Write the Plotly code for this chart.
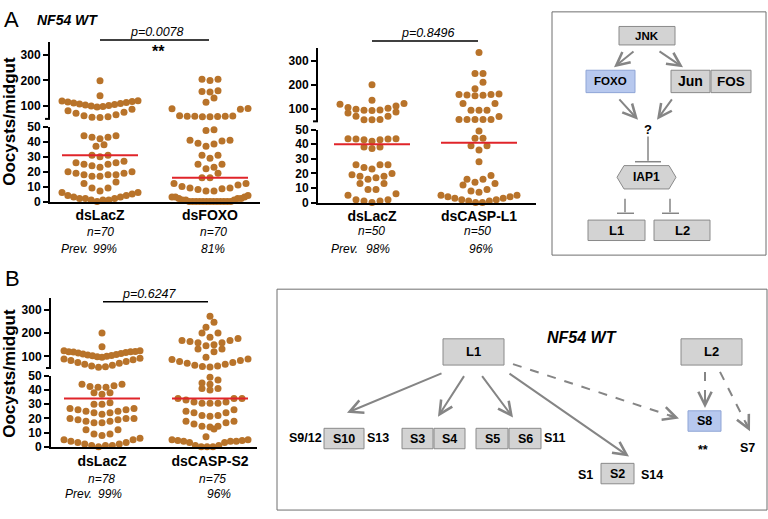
import plotly.graph_objects as go
from collections import defaultdict

W, H = 768, 519
FONT = "Liberation Sans, Arial, sans-serif"

# ---------------- data ----------------
a1_groups = ["dsLacZ", "dsFOXO"]
a1_dslacz = [199, 140,
             96, 98, 100, 102, 104, 106, 108, 110, 112, 114, 116, 118, 120, 121,
             55, 56, 58, 62, 66, 72, 76, 82, 88,
             42, 43, 44, 44, 43, 37, 38, 30, 31, 31,
             23, 24, 25, 25, 26, 26, 27,
             17, 17, 18, 18, 18, 19, 19, 20, 20,
             7, 9, 9, 12, 13,
             0, 1, 1, 1, 2, 2, 2, 3, 3, 4, 4, 5, 6, 6]
a1_dsfoxo = [205, 200, 205, 160, 157, 155, 132, 115,
             90, 88, 91, 58, 60, 60, 62, 60, 58, 61, 59,
             48, 47.5, 41, 39, 37, 38.5, 40.5, 41,
             29, 31, 31, 25, 23, 25, 22, 19, 16, 16,
             12, 10, 9, 7, 7, 8, 8.5, 9, 11, 12,
             0, 0, 0, 0, 0, 0, 0, 0, 0, 0, 0, 0, 0,
             1, 1, 1, 2, 2, 2, 3, 3, 3, 4]
a1_medians = [31, 16]
a1_n = ["n=70", "n=70"]
a1_prev = ["99%", "81%"]
a1_p = "p=0.0078"
a1_sig = "**"

a2_groups = ["dsLacZ", "dsCASP-L1"]
a2_dslacz = [200, 137, 120, 107, 100, 96, 95, 97, 104, 113, 123,
             84, 71, 56, 56, 57, 71, 88,
             43.5, 43, 43.7, 43.7, 43, 43.5, 42,
             38, 37, 38, 26, 24, 23, 26, 26,
             19, 18, 16, 17, 18, 20, 13, 13, 9, 9,
             6, 2, 1, 0, 1, 2, 5]
a2_dscasp_l1 = [333, 247, 247, 211, 184, 155, 158, 160, 162, 160, 157,
                123, 123, 96, 96, 96, 70, 58, 58, 58, 58, 58,
                49, 44, 44, 39, 39, 36, 28, 16, 16, 18.5, 14, 13, 12, 8, 7, 9,
                5, 4, 3, 2, 1, 0, 0, 1, 2, 3, 4, 5]
a2_medians = [40, 41]
a2_n = ["n=50", "n=50"]
a2_prev = ["98%", "96%"]
a2_p = "p=0.8496"

b_groups = ["dsLacZ", "dsCASP-S2"]
b_dslacz = [200, 141, 124, 124,
            96, 98, 100, 102, 104, 106, 108, 110, 112, 114, 116, 118, 119, 120, 121,
            53, 55, 58, 62, 66, 70, 74, 78, 82, 85, 88, 92,
            42.5, 42, 44, 44, 42, 43, 38, 37, 38, 30, 31, 30,
            23, 24, 24, 25, 25, 26, 26, 27, 27,
            17, 17, 18, 18, 19, 19, 20, 20, 20,
            12, 9, 8, 9, 12,
            0, 1, 1, 1, 2, 2, 3, 3, 4, 5, 5, 6]
b_dscasp_s2 = [272, 246, 224, 200, 200, 182, 176, 168, 168, 163, 158, 158, 149, 145,
               131, 131, 120, 96,
               54, 56, 58, 62, 66, 70, 74, 78, 82, 86, 89,
               49, 47, 44, 41, 40, 41, 45,
               34, 34, 31.5, 30.6, 30.6, 30.6, 31.5, 33, 34,
               25, 24, 21.5, 22, 22, 24, 26,
               18, 16, 14.5, 14, 14.5, 18, 17, 12.5, 7,
               5, 4.5, 4, 4, 3, 1, 0, 0, 0, 1, 3, 4, 4.5, 5]
b_medians = [34, 34]
b_n = ["n=78", "n=75"]
b_prev = ["99%", "96%"]
b_p = "p=0.6247"

lower_ticks = [0, 10, 20, 30, 40, 50]
upper_ticks = [100, 200, 300]

# ---------------- helpers ----------------
DOT = "#b8732a"
RED = "#e0242a"
GRAY_LINE = "#858585"
DOT_STEP = 8.0
HALF = 38.0


def px(x):
    return x / W


def py(y):
    return 1 - y / H


def swarm(values, center, split=50.0):
    segs = {"lower": ([v for v in values if v <= split], 7.0, -0.5),
            "upper": ([v for v in values if v > split], 43.0, 50.0)}
    out = {}
    for name, (vals, bw, off) in segs.items():
        rows = defaultdict(list)
        for v in sorted(vals):
            rows[int((v - off) // bw)].append(v)
        xs, ys = [], []
        for key in sorted(rows):
            vs = sorted(rows[key])
            k = len(vs)
            s = DOT_STEP if (k - 1) * DOT_STEP <= 2 * HALF else 2 * HALF / (k - 1)
            pos = [(i - (k - 1) / 2) * s for i in range(k)]
            pos.sort(key=lambda p: (round(abs(p), 6), p))
            for v, p in zip(vs, pos):
                xs.append(center + p)
                ys.append(v)
        out[name] = (xs, ys)
    return out


fig = go.Figure()
annotations = []
shapes = []


def ann(x, y, text, size, bold=False, italic=False, xanchor="center", angle=0, color="black"):
    t = text
    if bold:
        t = "<b>" + t + "</b>"
    if italic:
        t = "<i>" + t + "</i>"
    annotations.append(dict(x=px(x), y=py(y), xref="paper", yref="paper", text=t,
                            showarrow=False, xanchor=xanchor, yanchor="middle",
                            textangle=angle, font=dict(family=FONT, size=size, color=color)))


def line(x0, y0, x1, y1, color="black", width=1.5, dash=None):
    d = dict(type="line", xref="paper", yref="paper", x0=px(x0), y0=py(y0), x1=px(x1), y1=py(y1),
             line=dict(color=color, width=width))
    if dash:
        d["line"]["dash"] = dash
    shapes.append(d)


def rect(x0, y0, x1, y1, fill, edge, width=1):
    shapes.append(dict(type="rect", xref="paper", yref="paper", x0=px(x0), y0=py(y1), x1=px(x1), y1=py(y0),
                       fillcolor=fill, line=dict(color=edge, width=width)))


def arrow(x0, y0, x1, y1, dashed=False):
    if dashed:
        line(x0, y0, x1, y1, color=GRAY_LINE, width=2, dash="dash")
        L = ((x1 - x0) ** 2 + (y1 - y0) ** 2) ** 0.5
        bx, by = x1 - (x1 - x0) / L * 12, y1 - (y1 - y0) / L * 12
        annotations.append(dict(x=px(x1), y=py(y1), xref="paper", yref="paper", ax=bx - x1, ay=by - y1,
                                axref="pixel", ayref="pixel", text="", showarrow=True, arrowhead=5,
                                arrowsize=1.3, arrowwidth=2, arrowcolor=GRAY_LINE))
    else:
        annotations.append(dict(x=px(x1), y=py(y1), xref="paper", yref="paper", ax=x0 - x1, ay=y0 - y1,
                                axref="pixel", ayref="pixel", text="", showarrow=True, arrowhead=5,
                                arrowsize=1.3, arrowwidth=2, arrowcolor=GRAY_LINE))


axis_common = dict(showline=True, linecolor="black", linewidth=2, ticks="outside", ticklen=5,
                   tickwidth=2, tickcolor="black", showgrid=False, zeroline=False, fixedrange=True,
                   tickfont=dict(family=FONT, size=12, color="black", weight="bold"))

layout_axes = {}


def panel(xid, ylo, yhi, xdom, lo, hi, centers, groups, series, medians):
    xname = "xaxis" if xid == "x" else "xaxis" + xid[1:]
    yloname = "yaxis" if ylo == "y" else "yaxis" + ylo[1:]
    yhiname = "yaxis" + yhi[1:]
    width = xdom[1] - xdom[0]
    layout_axes[xname] = dict(axis_common, domain=[px(xdom[0]), px(xdom[1])], range=[0, width],
                              anchor=ylo, tickvals=centers, ticktext=groups, ticks="",
                              tickfont=dict(family=FONT, size=14, color="black", weight="bold"))
    layout_axes[yloname] = dict(axis_common, domain=[py(lo[1]), py(lo[0])], range=[0, 50],
                                anchor=xid, tickvals=lower_ticks)
    layout_axes[yhiname] = dict(axis_common, domain=[py(hi[1]), py(hi[0])], range=[50, 350],
                                anchor=xid, tickvals=upper_ticks)
    for c, vals, m in zip(centers, series, medians):
        sw = swarm(vals, c)
        for seg, ya in (("lower", ylo), ("upper", yhi)):
            xs, ys = sw[seg]
            fig.add_trace(go.Scatter(x=xs, y=ys, mode="markers", xaxis=xid, yaxis=ya,
                                     marker=dict(size=7, color=DOT, line=dict(width=0)),
                                     cliponaxis=False, showlegend=False, hoverinfo="skip"))
        fig.add_trace(go.Scatter(x=[c - HALF, c + HALF], y=[m, m], mode="lines", xaxis=xid, yaxis=ylo,
                                 line=dict(color=RED, width=2), cliponaxis=False,
                                 showlegend=False, hoverinfo="skip"))
    # break mark at bottom of upper axis
    line(xdom[0] - 5, hi[1], xdom[0], hi[1], width=2)


# ---------------- Panel A, left plot ----------------
panel("x", "y", "y2", (50, 260), (123, 200), (36, 115), [50, 160], a1_groups,
      [a1_dslacz, a1_dsfoxo], a1_medians)
ann(11, 13, "A", 22)
ann(67, 13, "NF54 WT", 14, bold=True, italic=True)
ann(10, 118, "Oocysts/midgut", 17, bold=True, angle=-90)
line(100, 34, 209, 34, width=1.5)
ann(157, 26, a1_p, 12.5, italic=True)
ann(158, 46, a1_sig, 16, bold=True)
ann(100, 231, a1_n[0], 12, italic=True)
ann(213, 231, a1_n[1], 12, italic=True)
ann(59, 249, "Prev.", 12, italic=True, xanchor="left")
ann(105, 249, a1_prev[0], 12, italic=True)
ann(213, 249, a1_prev[1], 12, italic=True)

# ---------------- Panel A, middle plot ----------------
panel("x2", "y3", "y4", (318, 536), (126, 201), (42.5, 117.5), [54, 161], a2_groups,
      [a2_dslacz, a2_dscasp_l1], a2_medians)
line(372, 35, 478, 35, width=1.5)
ann(428, 27, a2_p, 12.5, italic=True)
ann(371, 230, a2_n[0], 12, italic=True)
ann(477, 230, a2_n[1], 12, italic=True)
ann(329, 249, "Prev.", 12, italic=True, xanchor="left")
ann(378, 249, a2_prev[0], 12, italic=True)
ann(481, 249, a2_prev[1], 12, italic=True)

# ---------------- Panel B plot ----------------
panel("x3", "y5", "y6", (51, 257), (379, 452), (299, 371), [51, 159], b_groups,
      [b_dslacz, b_dscasp_s2], b_medians)
ann(12, 279, "B", 22)
ann(10, 377, "Oocysts/midgut", 17, bold=True, angle=-90)
line(103, 303, 208, 303, width=1.5)
ann(149, 295, b_p, 12.5, italic=True)
ann(101, 485, b_n[0], 12, italic=True)
ann(212, 485, b_n[1], 12, italic=True)
ann(63, 500, "Prev.", 12, italic=True, xanchor="left")
ann(110, 500, b_prev[0], 12, italic=True)
ann(219, 500, b_prev[1], 12, italic=True)

# ---------------- Diagram A ----------------
BOX = "#d3d3d3"
BOXE = "#8a8a8a"
BLUE = "#b7c8ee"
BLUEE = "#8fa5d6"
rect(552, 5, 766, 255, "rgba(0,0,0,0)", "#6f6f6f", 1)
for (x0, y0, x1, y1, t, fc, ec, fs) in [
        (619, 20, 675, 39, "JNK", BOX, BOXE, 11.5),
        (586, 65, 635, 88, "FOXO", BLUE, BLUEE, 11.5),
        (671, 65, 710, 88, "Jun", BOX, BOXE, 14),
        (711, 65, 751, 88, "FOS", BOX, BOXE, 13.5),
        (588, 219, 645, 240, "L1", BOX, BOXE, 13),
        (654, 219, 710, 240, "L2", BOX, BOXE, 13)]:
    rect(x0, y0, x1, y1, fc, ec)
    ann((x0 + x1) / 2, (y0 + y1) / 2, t, fs, bold=True)
hexpts = [(617, 175), (624, 163), (669, 163), (676, 175), (669, 187), (624, 187)]
path = "M " + " L ".join(f"{px(x)},{py(y)}" for x, y in hexpts) + " Z"
shapes.append(dict(type="path", xref="paper", yref="paper", path=path, fillcolor=BOX,
                   line=dict(color=BOXE, width=1)))
ann(646.5, 175, "IAP1", 12, bold=True)
ann(648, 126, "?", 13, bold=True)
line(648, 133, 648, 158, color=GRAY_LINE, width=1.5)
line(635, 159, 661, 159, color=GRAY_LINE, width=1.5)
line(625, 197, 625, 211, color=GRAY_LINE, width=1.5)
line(617, 212, 634, 212, color=GRAY_LINE, width=1.5)
line(670, 197, 670, 211, color=GRAY_LINE, width=1.5)
line(662, 212, 679, 212, color=GRAY_LINE, width=1.5)
arrow(635, 45, 614, 62)
arrow(658, 45, 683, 62)
arrow(618, 94, 638, 116)
arrow(673, 94, 657, 116)

# ---------------- Diagram B ----------------
rect(277, 290, 767, 517, "rgba(0,0,0,0)", "#6f6f6f", 1)
ann(582, 340, "NF54 WT", 16, bold=True, italic=True)
for (x0, y0, x1, y1, t, fc, ec, fs) in [
        (443, 341, 504, 368, "L1", BOX, BOXE, 13),
        (681, 341, 742, 368, "L2", BOX, BOXE, 13),
        (324, 433, 364, 454, "S10", BOX, BOXE, 12.5),
        (402, 433, 433, 454, "S3", BOX, BOXE, 12.5),
        (434, 433, 465, 454, "S4", BOX, BOXE, 12.5),
        (476, 433, 508, 454, "S5", BOX, BOXE, 12.5),
        (509, 433, 541, 454, "S6", BOX, BOXE, 12.5),
        (601, 469, 634, 490, "S2", BOX, BOXE, 12.5),
        (688, 415, 721, 436, "S8", BLUE, BLUEE, 12.5)]:
    rect(x0, y0, x1, y1, fc, ec)
    ann((x0 + x1) / 2, (y0 + y1) / 2, t, fs, bold=True)
ann(305, 443, "S9/12", 12.5, bold=True)
ann(378, 443, "S13", 12.5, bold=True)
ann(555, 443, "S11", 12.5, bold=True)
ann(585, 481, "S1", 12.5, bold=True)
ann(652, 481, "S14", 12.5, bold=True)
ann(703, 455, "**", 12.5, bold=True)
ann(747, 453, "S7", 12.5, bold=True)
arrow(443, 377, 347, 417)
arrow(465, 379, 438, 421)
arrow(481, 379, 513, 422)
arrow(508, 378, 629, 462)
arrow(513, 367, 679, 423, dashed=True)
arrow(705, 375, 705, 412, dashed=True)
arrow(720, 375, 750, 436, dashed=True)

fig.update_layout(width=W, height=H, autosize=False, margin=dict(l=0, r=0, t=0, b=0),
                  paper_bgcolor="white", plot_bgcolor="rgba(0,0,0,0)", showlegend=False,
                  font=dict(family=FONT, color="black"),
                  annotations=annotations, shapes=shapes, **layout_axes)

fig.write_html("out.html", config={"displayModeBar": False})

# remove the default page margin so the figure sits at the window's top-left corner
with open("out.html", "r", encoding="utf-8") as f:
    html = f.read()
html = html.replace("<body>", '<body style="margin:0;padding:0;overflow:hidden;">', 1)
with open("out.html", "w", encoding="utf-8") as f:
    f.write(html)
